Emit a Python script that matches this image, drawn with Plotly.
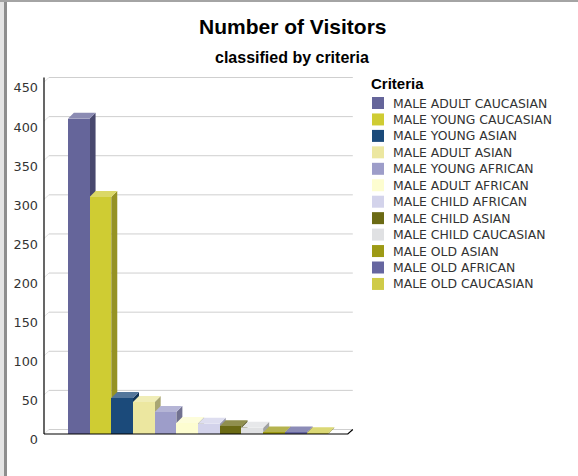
import plotly.graph_objects as go

# ---------------- data ----------------
categories = [
    "MALE ADULT CAUCASIAN", "MALE YOUNG CAUCASIAN", "MALE YOUNG ASIAN",
    "MALE ADULT ASIAN", "MALE YOUNG AFRICAN", "MALE ADULT AFRICAN",
    "MALE CHILD AFRICAN", "MALE CHILD ASIAN", "MALE CHILD CAUCASIAN",
    "MALE OLD ASIAN", "MALE OLD AFRICAN", "MALE OLD CAUCASIAN",
]
visitors = [403, 303, 46, 41, 28, 14, 13, 10, 8, 2, 2, 1]
colors = ["#65659a", "#cfcc33", "#1b4a7a", "#ece7a0", "#9d9dc9", "#fdfdd0",
          "#d3d3eb", "#6b6a14", "#e0e1e3", "#9d9a15", "#6666a0", "#cfcb48"]
y_ticks = [0, 50, 100, 150, 200, 250, 300, 350, 400, 450]
title_text = "Number of Visitors"
subtitle_text = "classified by criteria"
legend_title = "Criteria"

# ---------------- geometry (pixels) ----------------
FW, FH = 578, 476
PPX = 21.7            # px per category unit
PPY = 352 / 450       # px per value unit
AX_PX, AX_PY = 44, 434  # pixel of front axis origin
X_AXIS = -1.6         # data x of the vertical axis
X_END = 12.4          # data x of right end of floor
L, R, T, B = 40, 356, 72, 437
x_range = [X_AXIS - (AX_PX - L) / PPX, X_AXIS + (R - AX_PX) / PPX]
y_range = [-(B - AX_PY) / PPY, (AX_PY - T) / PPY]

BDX, BDY = 6 / PPX, 6 / PPY     # bar depth
GDX, GDY = 5 / PPX, 4.5 / PPY   # wall depth for grid


def px(xp):
    return (xp - L) / (R - L)


def py(yp):
    return (B - yp) / (B - T)


def hex2rgb(h):
    h = h.lstrip("#")
    return [int(h[i:i + 2], 16) for i in (0, 2, 4)]


def shade(h, f):
    r, g, b = hex2rgb(h)
    return "rgb(%d,%d,%d)" % (int(r * f), int(g * f), int(b * f))


def tint(h, f):
    r, g, b = hex2rgb(h)
    return "rgb(%d,%d,%d)" % (int(r + (255 - r) * f), int(g + (255 - g) * f), int(b + (255 - b) * f))


shapes = []
# back-wall gridlines with diagonal ticks
for v in y_ticks:
    shapes.append(dict(type="path", xref="x", yref="y", layer="below",
                       path="M %f,%f L %f,%f" % (X_AXIS, v, X_AXIS + GDX, v + GDY),
                       line=dict(color="#e2e2e2", width=1)))
    shapes.append(dict(type="path", xref="x", yref="y", layer="below",
                       path="M %f,%f L %f,%f" % (X_AXIS + GDX, v + GDY, X_END + GDX, v + GDY),
                       line=dict(color="#cfcfcf", width=1)))

# 3D faces of bars
for i, (v, c) in enumerate(zip(visitors, colors)):
    x0, x1 = i - 0.5, i + 0.5
    shapes.append(dict(type="path", xref="x", yref="y", layer="below",
                       path="M %f,%f L %f,%f L %f,%f L %f,%f Z" % (
                           x1, 0, x1, v, x1 + BDX, v + BDY, x1 + BDX, BDY),
                       fillcolor=shade(c, 0.72), line=dict(width=0)))
    shapes.append(dict(type="path", xref="x", yref="y", layer="below",
                       path="M %f,%f L %f,%f L %f,%f L %f,%f Z" % (
                           x0, v, x0 + BDX, v + BDY, x1 + BDX, v + BDY, x1, v),
                       fillcolor=tint(c, 0.25), line=dict(width=0)))

# axis lines
shapes.append(dict(type="path", xref="x", yref="y", layer="above",
                   path="M %f,%f L %f,%f" % (X_AXIS, 0, X_AXIS, y_ticks[-1] + GDY),
                   line=dict(color="#000000", width=1.2)))
shapes.append(dict(type="path", xref="x", yref="y", layer="above",
                   path="M %f,%f L %f,%f L %f,%f" % (X_AXIS, 0, X_END, 0, X_END + GDX, GDY),
                   line=dict(color="#000000", width=1.2)))

# outer frame (grey band on left, line on top)
shapes.append(dict(type="rect", xref="paper", yref="paper", layer="above",
                   x0=px(0), x1=px(4), y0=py(FH), y1=py(0),
                   fillcolor="#e4e4e4", line=dict(width=0)))
shapes.append(dict(type="rect", xref="paper", yref="paper", layer="above",
                   x0=px(4), x1=px(7), y0=py(FH), y1=py(0),
                   fillcolor="#8e8e8e", line=dict(width=0)))
shapes.append(dict(type="rect", xref="paper", yref="paper", layer="above",
                   x0=px(0), x1=px(FW), y0=py(2), y1=py(0),
                   fillcolor="#a4a4a4", line=dict(width=0)))

annotations = [
    dict(text="<b>%s</b>" % title_text, xref="paper", yref="paper",
         x=px(292), y=py(26), xanchor="center", yanchor="middle", showarrow=False,
         font=dict(family="Arial, Liberation Sans", size=21, color="#000000")),
    dict(text="<b>%s</b>" % subtitle_text, xref="paper", yref="paper",
         x=px(292), y=py(57), xanchor="center", yanchor="middle", showarrow=False,
         font=dict(family="Arial, Liberation Sans", size=16, color="#000000")),
    dict(text="<b>%s</b>" % legend_title, xref="paper", yref="paper",
         x=px(369), y=py(83), xanchor="left", yanchor="middle", showarrow=False,
         font=dict(family="Arial, Liberation Sans", size=15, color="#000000")),
]

# manual legend
ROW0, ROWH = 103, 16.45
for i, (name, c) in enumerate(zip(categories, colors)):
    yc = ROW0 + i * ROWH
    shapes.append(dict(type="rect", xref="paper", yref="paper", layer="above",
                       x0=px(372), x1=px(384), y0=py(yc + 6), y1=py(yc - 6),
                       fillcolor=c, line=dict(width=0)))
    annotations.append(dict(text=name, xref="paper", yref="paper",
                            x=px(391), y=py(yc), xanchor="left", yanchor="middle",
                            showarrow=False,
                            font=dict(family="Tahoma, DejaVu Sans", size=12.4, color="#333333")))

fig = go.Figure()
fig.add_trace(go.Bar(
    x=list(range(len(categories))), y=visitors, width=1,
    marker=dict(color=colors, line=dict(width=0)),
    hovertext=categories, showlegend=False,
))

fig.update_layout(
    width=FW, height=FH,
    margin=dict(l=L, r=FW - R, t=T, b=FH - B, pad=0),
    paper_bgcolor="#ffffff", plot_bgcolor="rgba(0,0,0,0)",
    shapes=shapes, annotations=annotations, showlegend=False,
    bargap=0,
    xaxis=dict(range=x_range, visible=False, fixedrange=True),
    yaxis=dict(range=y_range, tickvals=y_ticks, ticktext=[str(v) for v in y_ticks],
               showgrid=False, zeroline=False, showline=False, ticks="",
               ticklabelshift=6, ticklabelstandoff=1,
               tickfont=dict(family="Tahoma, DejaVu Sans", size=12.8, color="#333333")),
)

fig.write_html("out.html")
